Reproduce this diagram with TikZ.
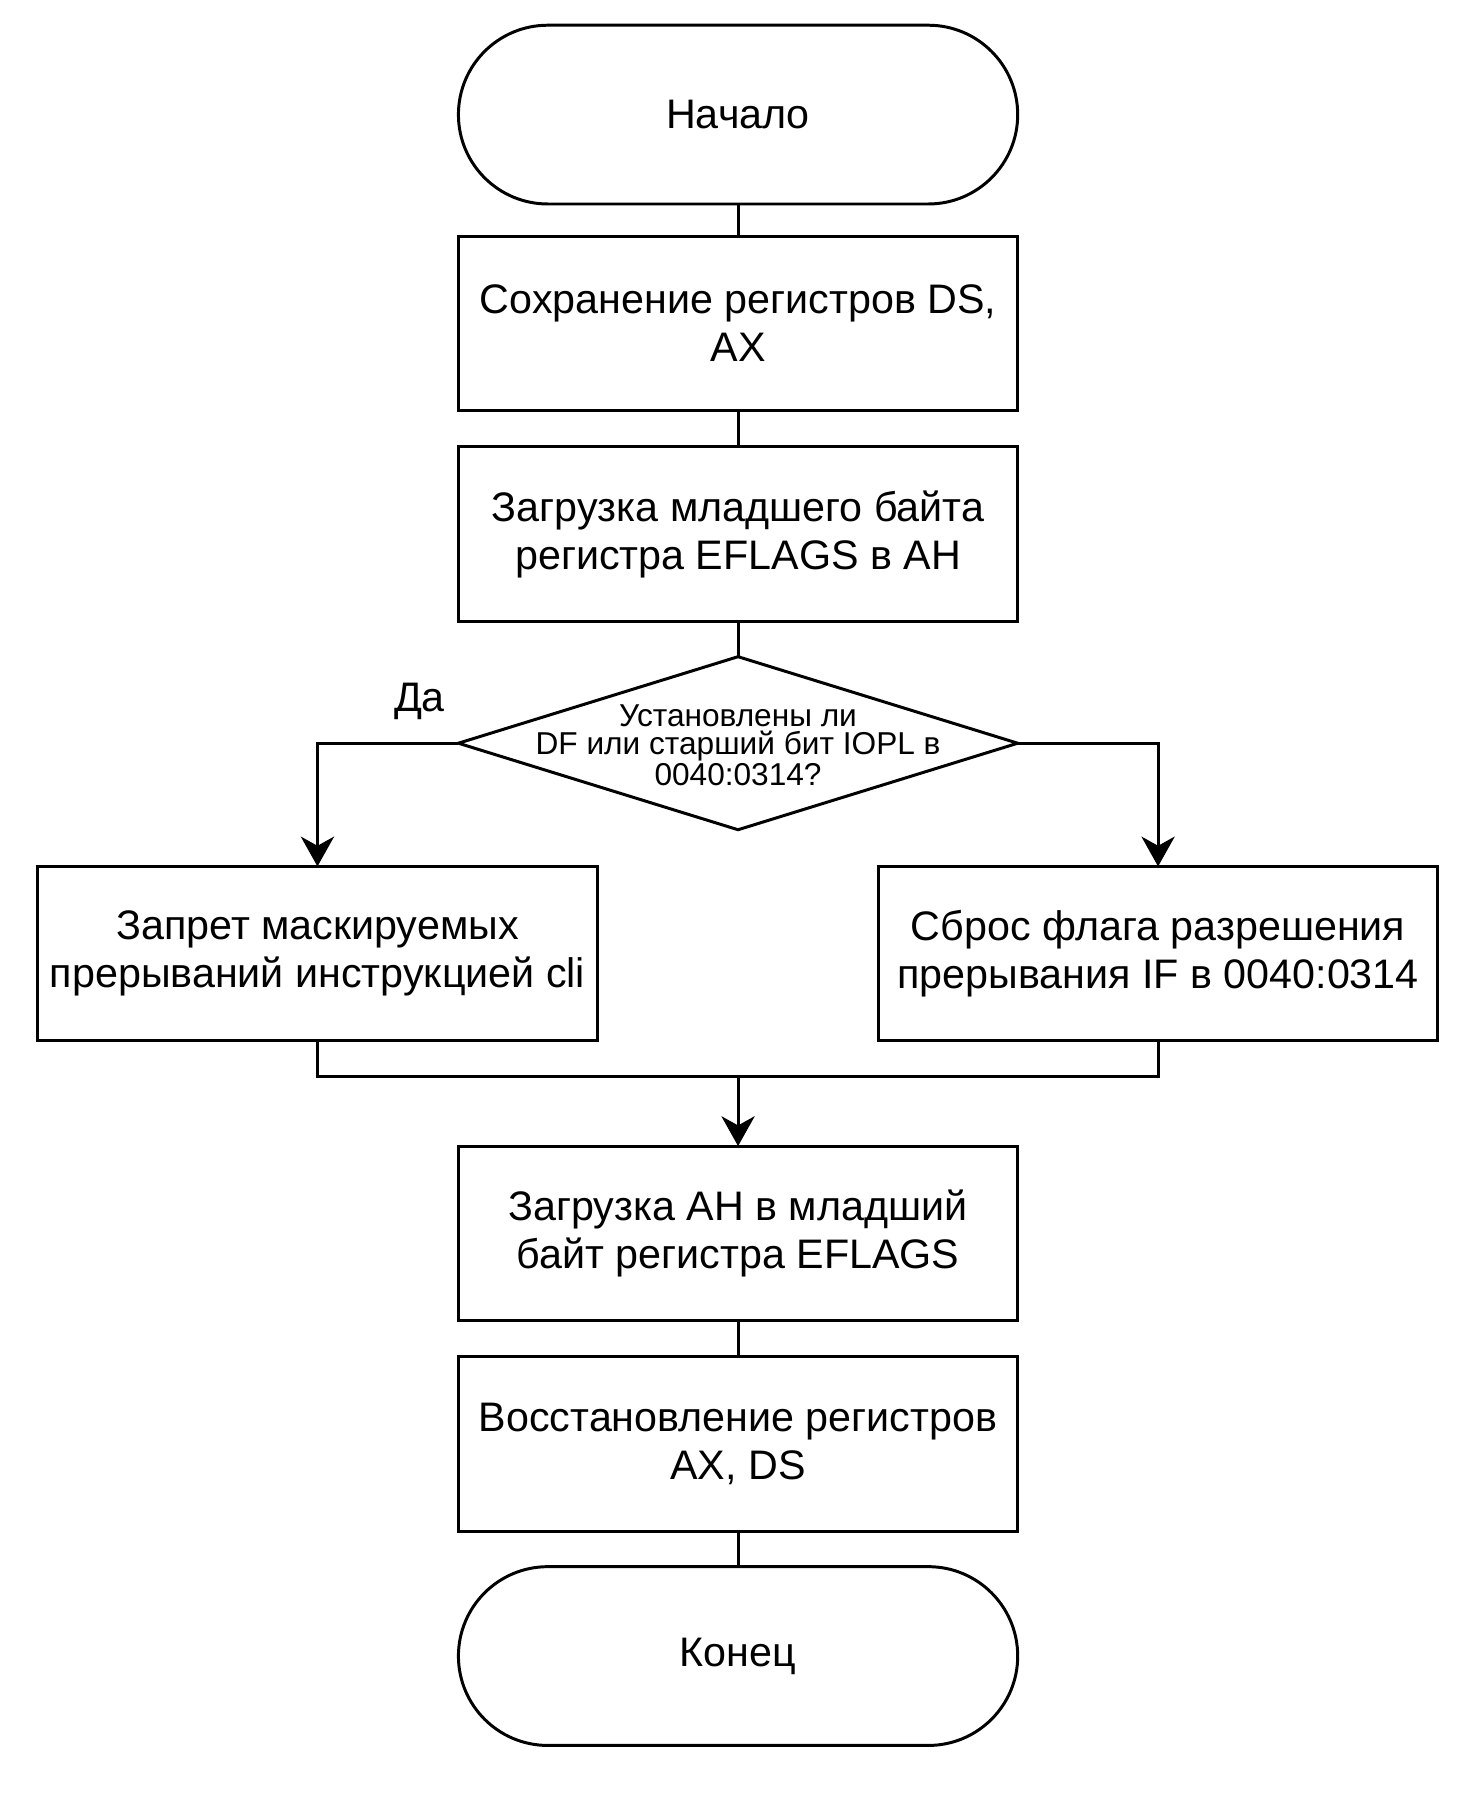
\documentclass[tikz,border=0pt]{standalone}
\usepackage{fontspec}
\setmainfont{Liberation Sans}
\usetikzlibrary{shapes,arrows.meta,calc,positioning}

\begin{document}
\begin{tikzpicture}[x=0.5pt,y=-0.5pt,line width=1.3pt,
  block/.style={draw,rectangle,minimum width=244pt,minimum height=76pt,align=center,
    font=\fontsize{18}{21}\selectfont,inner sep=0pt,outer sep=0pt},
  term/.style={block,rounded corners=39pt,minimum height=78pt},
  cond/.style={draw,diamond,aspect=3.23,minimum width=244pt,minimum height=75.5pt,inner sep=0pt,
    outer sep=0pt},
  small/.style={align=center,inner sep=0pt,font=\fontsize{13.8}{12.4}\selectfont},
  arr/.style={-{Stealth[length=13pt,width=14.5pt,inset=4pt]}}]

        \useasboundingbox (0,0) rectangle (1278,1568);

        \node[term] (begin) at (644,100) {Начало};
        \node[block] (save) [below = 14pt of begin] {Сохранение регистров DS,\\AX};
        \node[block] (load) [below = 16pt of save] {Загрузка младшего байта\\регистра EFLAGS в AH};
        \node[cond] (check) [below = 15.5pt of load] {};
        \node[small] (ask) at ($(check)+(0,2)$) {Установлены ли\\DF или старший бит IOPL в\\0040:0314?};

        \node[block] (cli) at (277,832) {Запрет маскируемых\\прерываний инструкцией cli};
        \node[block] (reset) at (1010.5,832) {Сброс флага разрешения\\прерывания IF в 0040:0314};

        \node[block] (store) at (644,1076) {Загрузка AH в младший\\байт регистра EFLAGS};
        \node[block] (back) [below = 16pt of store] {Восстановление регистров\\AX, DS};
        \node[term] (finish) [below = 15.5pt of back] {Конец};

        \node (yes) at (366,612) {\fontsize{18}{21}\selectfont Да};
        \coordinate (join) at (644,939);

        \draw (begin) -- (save);
        \draw (save) -- (load);
        \draw (load) -- (check);
        \draw[arr] (check.west) -| (cli.north);
        \draw[arr] (check.east) -| (reset.north);
        \draw (cli.south) |- (join) -| (reset.south);
        \draw[arr] (join) -- (store);
        \draw (store) -- (back);
        \draw (back) -- (finish);
      \end{tikzpicture}
\end{document}
